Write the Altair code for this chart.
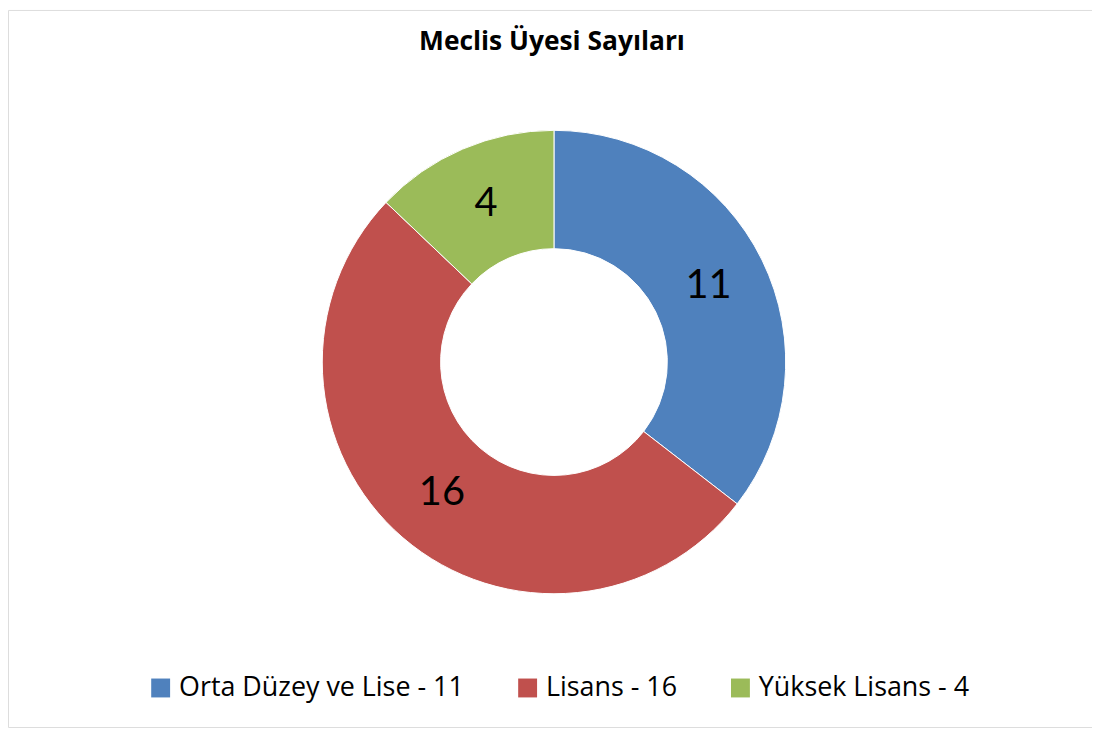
import altair as alt
import pandas as pd

title_text = "Meclis Üyesi Sayıları"
categories = ["Orta Düzey ve Lise", "Lisans", "Yüksek Lisans"]
values = [11, 16, 4]
colors = ["#4F81BD", "#C0504D", "#9BBB59"]

labels = [f"{c} - {v}" for c, v in zip(categories, values)]
df = pd.DataFrame({
    "category": categories,
    "value": values,
    "label": labels,
    "order": list(range(len(categories))),
})

W, H = 1090, 721
CX, CY = 549, 354

base = alt.Chart(df).encode(
    theta=alt.Theta("value:Q", stack=True),
    order=alt.Order("order:Q"),
)

arcs = base.mark_arc(outerRadius=233, innerRadius=114, stroke="white", strokeWidth=1).encode(
    x=alt.value(CX), y=alt.value(CY),
    color=alt.Color(
        "label:N",
        scale=alt.Scale(domain=labels, range=colors),
        sort=labels,
        legend=alt.Legend(
            title=None, orient="none", legendX=140, legendY=668,
            direction="horizontal", symbolType="square", symbolSize=361,
            symbolStrokeWidth=0, labelFontSize=27, labelFont="Open Sans",
            labelColor="black", columnPadding=50, labelOffset=5, labelLimit=0,
        ),
    ),
)

texts = base.mark_text(radius=173, fontSize=40, font="Lato", color="black").encode(
    x=alt.value(CX), y=alt.value(CY),
    text=alt.Text("value:Q"),
)

title = alt.Chart(pd.DataFrame({"t": [title_text]})).mark_text(
    fontSize=26.5, fontWeight="bold", font="Open Sans", color="black"
).encode(x=alt.value(CX - 2), y=alt.value(32), text="t:N")

chart = alt.layer(arcs, texts, title).properties(
    width=W, height=H, autosize=alt.AutoSizeParams(type="none"), padding=0,
).configure_view(stroke="#8C8C8C", strokeWidth=2).configure(background="white")

chart.save("out.html", embed_options={"renderer": "svg", "actions": False})
